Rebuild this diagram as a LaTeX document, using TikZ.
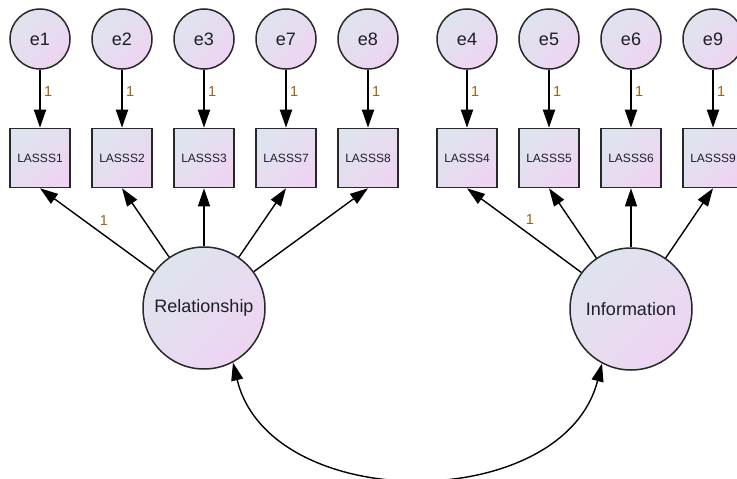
\documentclass[tikz,border=0pt]{standalone}
\usepackage{fontspec}
\setmainfont{Liberation Sans}
\usetikzlibrary{arrows.meta}
\definecolor{fillA}{RGB}{222,228,238}
\definecolor{fillB}{RGB}{238,212,242}
\definecolor{edgec}{RGB}{40,40,40}
\definecolor{txtc}{RGB}{30,30,40}
\definecolor{lblc}{RGB}{150,100,30}
\tikzset{
  shaded/.style={shading=axis, top color=fillA, bottom color=fillB, shading angle=45, draw=edgec, text=txtc},
  err/.style={shaded, circle, line width=1.5pt, minimum size=60pt, inner sep=0pt, font=\fontsize{18}{20}\selectfont},
  obs/.style={shaded, rectangle, line width=1.6pt, minimum width=60pt, minimum height=59pt, inner sep=0pt, font=\fontsize{12}{14}\selectfont},
  lat/.style={shaded, circle, line width=1.5pt, minimum size=122pt, inner sep=0pt, font=\fontsize{18}{20}\selectfont},
  earr/.style={-{Triangle[length=18pt,width=12pt]}, line width=2pt, draw=black},
  load/.style={-{Triangle[length=18pt,width=12pt]}, line width=1.4pt, draw=black},
  cov/.style={{Triangle[length=18pt,width=12pt]}-{Triangle[length=18pt,width=12pt]}, line width=1.4pt, draw=black},
  lbl/.style={font=\fontsize{14.5}{16}\selectfont, text=lblc, inner sep=1pt}
}
\begin{document}
\begin{tikzpicture}[x=1pt,y=-1pt]
\useasboundingbox (0,0) rectangle (737,479);
% error terms
\node[err] (e1) at (40,39) {e1};
\node[err] (e2) at (122,39) {e2};
\node[err] (e3) at (204,39) {e3};
\node[err] (e7) at (286,39) {e7};
\node[err] (e8) at (368,39) {e8};
\node[err] (e4) at (467,39) {e4};
\node[err] (e5) at (549,39) {e5};
\node[err] (e6) at (631,39) {e6};
\node[err] (e9) at (713,39) {e9};
% observed
\node[obs] (b1) at (40,158) {LASSS1};
\node[obs] (b2) at (122,158) {LASSS2};
\node[obs] (b3) at (204,158) {LASSS3};
\node[obs] (b7) at (286,158) {LASSS7};
\node[obs] (b8) at (368,158) {LASSS8};
\node[obs] (b4) at (467,158) {LASSS4};
\node[obs] (b5) at (549,158) {LASSS5};
\node[obs] (b6) at (631,158) {LASSS6};
\node[obs] (b9) at (713,158) {LASSS9};
% latent
\node[lat] (rel) at (204,308) {Relationship};
\node[lat] (inf) at (631,309) {Information};
% error arrows
\foreach \i in {1,2,3,7,8,4,5,6,9}{
  \draw[earr] (e\i) -- node[lbl, right=2pt, pos=0.37] {1} (b\i);
}
% loadings
\draw[load] (rel) -- node[lbl, above=8pt, pos=0.44] {1} (b1.south);
\draw[load] (rel) -- (b2.south);
\draw[load] (rel) -- (b3.south);
\draw[load] (rel) -- (b7.south);
\draw[load] (rel) -- (b8.south);
\draw[load] (inf) -- node[lbl, above=8pt, pos=0.45] {1} (b4.south);
\draw[load] (inf) -- (b5.south);
\draw[load] (inf) -- (b6.south);
\draw[load] (inf) -- (b9.south);
% covariance
\draw[cov] (rel.-62) .. controls (270,515) and (563,515) .. (inf.-118);
\end{tikzpicture}
\end{document}
